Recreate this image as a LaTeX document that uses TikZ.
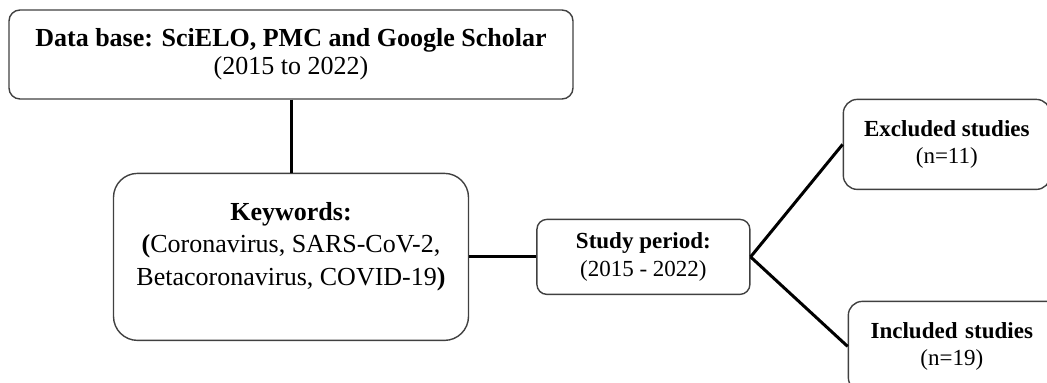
\documentclass[tikz,border=0pt]{standalone}
\usepackage{fontspec}
\setmainfont{Liberation Serif}
\usetikzlibrary{positioning}

\begin{document}
\begin{tikzpicture}[x=0.5pt,y=-0.5pt,
  box/.style={draw=black!75,line width=0.7pt,align=center,inner sep=0pt},
  topbox/.style={box,minimum width=282pt,minimum height=44.5pt,rounded corners=5.5pt,
                 font=\fontsize{13}{14}\selectfont},
  kwbox/.style={box,minimum width=177.5pt,minimum height=83.5pt,rounded corners=12pt},
  midbox/.style={box,minimum width=106.5pt,minimum height=37.5pt,rounded corners=5pt,
                 font=\fontsize{11.5}{13.75}\selectfont},
  endbox/.style={box,minimum width=103.5pt,minimum height=45pt,rounded corners=7pt,
                 font=\fontsize{11.5}{13.75}\selectfont},
  link/.style={line width=1.5pt}]
\clip (0,0) rectangle (1047,383);
\node[topbox] (database) at (291,54.5) {\textbf{Data base: SciELO, PMC and Google Scholar}\\(2015 to 2022)};
\node[kwbox,below=36.5pt of database] (keywords) {};
\node[align=center,font=\fontsize{13}{16.25}\selectfont] (kwtext) at ([yshift=5.25pt]keywords.center)
  {\textbf{Keywords:}\\\textbf{(}Coronavirus, SARS-CoV-2,\\Betacoronavirus, COVID-19\textbf{)}};
\node[midbox,right=33.5pt of keywords] (period) {\textbf{Study period:}\\(2015 - 2022)};
\node[endbox,right=46pt of period,yshift=56.25pt] (excluded) {\textbf{Excluded studies}\\(n=11)};
% right end runs off the page
\node[endbox,minimum width=112pt,text width=112pt,align=left,
      right=48.5pt of period,yshift=-44.75pt] (included)
  {\makebox[103.5pt]{\textbf{Included studies}}\\\makebox[103.5pt]{(n=19)}};
\draw[link] (database.south)--(keywords.north);
\draw[link] (keywords)--(period);
\draw[link] (period.east)--(excluded.west);
\draw[link] (period.east)--(included.west);
\end{tikzpicture}
\end{document}
